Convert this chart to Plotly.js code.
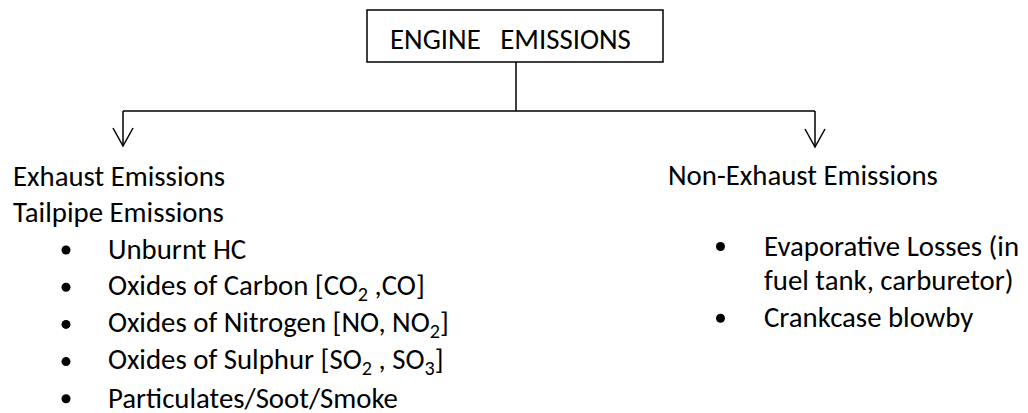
<!DOCTYPE html>
<html>
<head>
<meta charset="utf-8">
<script src="https://cdn.plot.ly/plotly-3.0.1.min.js"></script>
<style>
  html, body { margin: 0; padding: 0; background: #ffffff; }
  #chart { width: 1028px; height: 413px; }
</style>
</head>
<body>
<div id="chart"></div>
<script>
// ---- Content (text) ----
const rootLabel = "ENGINE&nbsp;&nbsp;&nbsp;EMISSIONS";
const exhaustHeadings = ["Exhaust Emissions", "Tailpipe Emissions"];
const nonExhaustHeadings = ["Non-Exhaust Emissions"];
const exhaustItems = [
  "Unburnt HC",
  "Oxides of Carbon [CO<sub>2</sub> ,CO]",
  "Oxides of Nitrogen [NO, NO<sub>2</sub>]",
  "Oxides of Sulphur [SO<sub>2</sub> , SO<sub>3</sub>]",
  "Particulates/Soot/Smoke"
];
const nonExhaustItems = [
  ["Evaporative Losses (in", "fuel tank, carburetor)"],
  ["Crankcase blowby"]
];

// ---- Layout geometry (diagram coordinates, pixels in a 1028x413 frame) ----
const W = 1028, H = 413;
const FONT = "Carlito, Calibri, Lato, 'Noto Sans', sans-serif";
const FS = 28.8;
const CAP = 0.346 * FS;   // baseline -> middle anchor offset
const box = {x0: 367, x1: 663, y0: 10, y1: 62};
const trunkX = 516, busY = 111;
const leftX = 123, rightX = 815, arrowTipL = 146, arrowTipR = 147;
const headW = 10, headH = 18;
const leftHeadX = 12, headBase = 186, headGap = 36.5;
const leftBulletX = 66, leftTextX = 107, leftFirst = 259.5, rowGap = 37.2;
const rightHeadX = 667, rightBulletX = 720.5, rightTextX = 763;
const rightFirst = 256, wrapGap = 34, rightRowGap = 37.7;

const ink = "#000000";
const lineStyle = {color: ink, width: 1.5};

const shapes = [
  {type: "rect", xref: "x", yref: "y", x0: box.x0, x1: box.x1, y0: box.y0, y1: box.y1, line: lineStyle, fillcolor: "rgba(0,0,0,0)"},
  {type: "line", xref: "x", yref: "y", x0: trunkX, x1: trunkX, y0: box.y1, y1: busY, line: lineStyle},
  {type: "line", xref: "x", yref: "y", x0: leftX, x1: rightX, y0: busY, y1: busY, line: lineStyle},
  {type: "line", xref: "x", yref: "y", x0: leftX, x1: leftX, y0: busY, y1: arrowTipL, line: lineStyle},
  {type: "line", xref: "x", yref: "y", x0: rightX, x1: rightX, y0: busY, y1: arrowTipR, line: lineStyle},
  {type: "path", xref: "x", yref: "y", path: `M${leftX-headW},${arrowTipL-headH} L${leftX},${arrowTipL} L${leftX+headW},${arrowTipL-headH}`, line: lineStyle},
  {type: "path", xref: "x", yref: "y", path: `M${rightX-headW},${arrowTipR-headH} L${rightX},${arrowTipR} L${rightX+headW},${arrowTipR-headH}`, line: lineStyle}
];

function textAnn(txt, x, baseline, anchor) {
  return {
    text: txt, x: x, y: baseline - CAP, xref: "x", yref: "y",
    xanchor: anchor || "left", yanchor: "middle", showarrow: false,
    borderpad: 0, font: {family: FONT, size: FS, color: ink}
  };
}

const annotations = [];
annotations.push(textAnn(rootLabel, 510.5, 49.5, "center"));
exhaustHeadings.forEach((t, i) => annotations.push(textAnn(t, leftHeadX, headBase + i * headGap)));
nonExhaustHeadings.forEach((t, i) => annotations.push(textAnn(t, rightHeadX, 185 + i * headGap)));

const bulletX = [], bulletY = [];
exhaustItems.forEach((t, i) => {
  const b = leftFirst + i * rowGap;
  annotations.push(textAnn(t, leftTextX, b));
  bulletX.push(leftBulletX); bulletY.push(b - 9.5);
});
let yb = rightFirst;
nonExhaustItems.forEach((lines) => {
  bulletX.push(rightBulletX); bulletY.push(yb - 9.5);
  lines.forEach((ln, j) => {
    annotations.push(textAnn(ln, rightTextX, yb));
    if (j < lines.length - 1) yb += wrapGap;
  });
  yb += rightRowGap;
});

const traces = [{
  type: "scatter", mode: "markers", x: bulletX, y: bulletY,
  marker: {symbol: "circle", size: 9, color: ink, line: {width: 0}},
  hoverinfo: "skip", showlegend: false
}];

const layout = {
  width: W, height: H,
  margin: {l: 0, r: 0, t: 0, b: 0, pad: 0},
  paper_bgcolor: "#ffffff", plot_bgcolor: "#ffffff",
  xaxis: {range: [0, W], visible: false, fixedrange: true},
  yaxis: {range: [H, 0], visible: false, fixedrange: true},
  shapes: shapes, annotations: annotations, showlegend: false
};

Plotly.newPlot("chart", traces, layout, {staticPlot: true, displayModeBar: false});
</script>
</body>
</html>
